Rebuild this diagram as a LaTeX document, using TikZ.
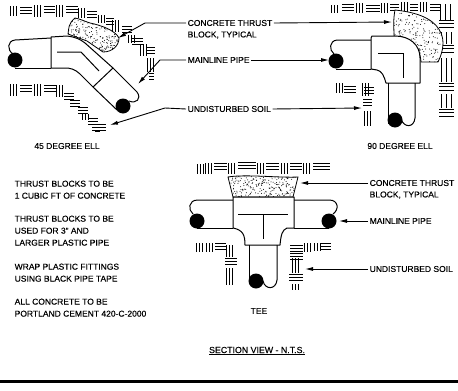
\documentclass[tikz,border=0pt]{standalone}
\usepackage{fontspec}
\setmainfont[RawFeature={embolden=0.3}]{Liberation Sans}
\usetikzlibrary{arrows.meta}
\usetikzlibrary{shapes, calc}

% soil hatching: three stacked strokes, #1 spacing, #4 stroke length
\newcommand{\soilv}[4][3]{\foreach \d in {0,1,2} \draw[soil] (#2+\d*#1,#3) -- ++(0,#4);}
\newcommand{\soilh}[4][3.2]{\foreach \d in {0,1,2} \draw[soil] (#2,#3+\d*#1) -- ++(#4,0);}

\begin{document}
\begin{tikzpicture}[x=1pt,y=-1pt]
\tikzstyle{soil} = [draw=black, line width=0.8pt]
\tikzstyle{pipe} = [draw=black, line width=1pt]
\tikzstyle{fitting} = [draw=black, line width=1pt, fill=white, line join=round]
\tikzstyle{plug} = [circle, fill=black, inner sep=0pt, minimum size=15pt]
\tikzstyle{leader} = [draw=black, line width=0.9pt, -{Latex[length=8pt,width=4pt]}]
\tikzstyle{label} = [inner sep=1.5pt, font=\fontsize{8.5}{12}\selectfont, align=left]
\tikzstyle{concrete} = [draw=black, line width=0.8pt, fill=white, path picture={
  \foreach \i in {1,...,240} {
    \pgfmathsetmacro{\r}{rnd}
    \coordinate (sw) at (path picture bounding box.south west);
    \coordinate (se) at (path picture bounding box.south east);
    \coordinate (nw) at (path picture bounding box.north west);
    \fill[black] ($(sw)!{rnd}!(se) - \r*(sw) + \r*(nw)$) circle (0.5pt);
  }}]
\useasboundingbox (0,0) rectangle (458,391);
\pgfmathsetseed{7}

% soil, 45 degree ell
\soilv{10}{6}{10} \soilh{20}{7}{12} \soilv{34}{5}{12} \soilh{44}{6}{11} \soilv{56}{5}{12}
\soilh{66}{6}{12} \soilv{78}{8}{10} \soilh{87}{11}{10} \soilv{98}{15}{8} \soilh{106}{18}{8}
\soilv{112}{20}{12} \soilh{122}{26}{10} \soilv{128}{35}{8} \soilh{132}{38}{11} \soilv{140}{44}{12}
\soilh{147}{47}{8} \soilv{147}{58}{14} \soilh{149}{73}{5}
\soilv{10}{84}{12} \soilh{20}{85}{12} \soilv{34}{84}{12} \soilh{44}{85}{12} \soilv{56}{85}{12}
\soilh{64}{93}{10} \soilh{70}{100}{10} \soilh{78}{107}{10} \soilv{82}{114}{6} \soilh{88}{118}{10}
\soilh{92}{124}{14}
\draw[soil] (95,131) -- (100,131);

% soil, 90 degree ell
\soilv{331}{5}{8} \soilh{342}{4}{12} \soilv{356}{3}{10} \soilh{366}{5}{14} \soilv{381}{3}{10}
\soilh{390}{4}{9} \soilv{401}{2}{10} \soilh{410}{4}{8} \soilv{420}{2}{10} \soilh{430}{4}{10}
\soilv[5]{440}{4}{16} \soilh[3.6]{439}{20}{15}
\soilv[5]{441}{32}{12} \soilh[3.6]{439}{45}{15} \soilv[5]{441}{58}{24} \soilh[3.6]{439}{83}{15}
\soilv[5]{441}{94}{14} \soilh[3.6]{439}{109}{15}
\soilv{336}{83}{10} \soilh{344}{86}{12} \soilv{362}{83}{13} \soilh{364}{87}{10}
\soilh{363}{99}{9} \soilv{364}{111}{15}

% soil, tee
\soilv{197}{164}{10} \soilv{205}{163}{11} \soilh{214}{163}{13} \soilv{228}{163}{11}
\soilh{238}{162}{18} \soilv{257}{163}{11} \soilh{266}{163}{13} \soilv{281}{163}{11}
\soilh{290}{163}{12} \soilv{303}{163}{11} \soilh{313}{163}{17}
\soilv{196}{243}{9} \soilv{206}{243}{9} \soilh{215}{243}{11} \soilv{226}{245}{12}
\soilh{225}{258}{12} \soilv{226}{268}{17}
\soilh{290}{245}{13} \soilv{304}{243}{9} \soilv{314}{243}{8} \soilh{320}{243}{11}
\soilh{290}{253}{13} \soilv{292}{258}{15} \soilh{289}{274}{14} \soilv{292}{284}{6}

% 45 degree ell
\path[concrete] (75,18) .. controls (68,24) and (69,28) .. (68,34) -- (87,41) -- (103,52)
  .. controls (112,52) and (119,46) .. (119,38) .. controls (115,30) and (100,25) .. (90,23) .. controls (84,21) and (80,19) .. (75,18) -- cycle;
\draw[pipe] (51,38) -- (15,40) .. controls (7,41) and (7,50) .. (13,54);
\draw[pipe] (15,68) -- (51,68);
\draw[fitting] (51,37) -- (67,36) .. controls (75,37) and (80,39) .. (85,43) -- (113,68) -- (93,87) -- (80,74) .. controls (75,69) and (70,68) .. (65,68) -- (51,68) -- cycle;
\draw[pipe] (57,52) -- (81,52) -- (99,71);
\draw[pipe] (113,68) -- (137,92) .. controls (142,99) and (136,104) .. (129,101);
\draw[pipe] (93,87) -- (117,110);
\node[plug] (plugA) at (15,60) {};
\node[plug] (plugB) at (123,106) {};

% 90 degree ell
\path[concrete] (395,10) .. controls (393,20) and (394,28) .. (394,36) .. controls (408,37) and (420,45) .. (421,62) -- (438,62)
  .. controls (444,50) and (444,40) .. (441,33) .. controls (436,22) and (424,13) .. (395,10) -- cycle;
\draw[pipe] (371,40) -- (337,40) .. controls (329,41) and (329,50) .. (334,54);
\draw[pipe] (336,69) -- (371,69);
\draw[fitting] (371,38) -- (372,36) -- (395,36) .. controls (410,36) and (420,45) .. (420,58) -- (420,83) -- (386,83) .. controls (384,76) and (382,71) .. (377,70) -- (371,69) -- cycle;
\draw[pipe] (378,53) -- (403,53) -- (403,78);
\draw[pipe] (388,83) -- (388,124);
\draw[pipe] (415,83) -- (415,118) .. controls (414,128) and (404,128) .. (401,119);
\node[plug] (plugC) at (336,61) {};
\node[plug] (plugD) at (395,120) {};

% tee
\path[concrete] (228,177) .. controls (245,174) and (280,178) .. (298,177) -- (293,197) -- (233,197) -- cycle;
\draw[pipe] (233,200) -- (198,200) .. controls (188,200) and (188,210) .. (193,214);
\draw[pipe] (197,228) -- (233,228);
\draw[pipe] (294,200) -- (329,200) .. controls (339,200) and (339,210) .. (333,214);
\draw[pipe] (294,228) -- (329,228);
\draw[fitting] (233,197) -- (294,197) -- (294,228) -- (287,228) .. controls (282,230) and (281,235) .. (280,245) -- (245,245) .. controls (245,235) and (243,230) .. (233,228) -- cycle;
\draw[pipe] (238,214) -- (288,214);
\draw[pipe] (263,214) -- (263,239);
\draw[pipe] (249,245) -- (249,283);
\draw[pipe] (277,245) -- (277,280) .. controls (276,290) and (265,290) .. (263,281);
\node[plug] (plugE) at (197,221) {};
\node[plug] (plugF) at (329,221) {};
\node[plug] (plugG) at (256,281) {};

% labels
\node[label, anchor=west] (thrustA) at (186,23) {CONCRETE THRUST};
\node[label, anchor=west] (blockA) at (186,35) {BLOCK, TYPICAL};
\node[label, anchor=west] (pipeA) at (186,60) {MAINLINE PIPE};
\node[label, anchor=west] (soilA) at (186,109) {UNDISTURBED SOIL};
\node[label, anchor=west] (thrustB) at (368,183) {CONCRETE THRUST};
\node[label, anchor=west] (blockB) at (368,195) {BLOCK, TYPICAL};
\node[label, anchor=west] (pipeB) at (368,221) {MAINLINE PIPE};
\node[label, anchor=west] (soilB) at (368,269) {UNDISTURBED SOIL};
\node[label] (ellA) at (67,146) {45 DEGREE ELL};
\node[label] (ellB) at (400,146) {90 DEGREE ELL};
\node[label] (tee) at (259,311) {TEE};
\node[label, font=\fontsize{8.8}{12}\selectfont] (section) at (257,351) {\underline{SECTION VIEW - N.T.S.}};
\node[label, anchor=north west] (noteA) at (13,179) {THRUST BLOCKS TO BE\\1 CUBIC FT OF CONCRETE};
\node[label, anchor=north west] (noteB) at (13,214) {THRUST BLOCKS TO BE\\USED FOR 3" AND\\LARGER PLASTIC PIPE};
\node[label, anchor=north west] (noteC) at (13,262) {WRAP PLASTIC FITTINGS\\USING BLACK PIPE TAPE};
\node[label, anchor=north west] (noteD) at (13,297) {ALL CONCRETE TO BE\\PORTLAND CEMENT 420-C-2000};

% leaders
\coordinate (tipA) at (118,38);
\coordinate (tipB) at (138,84);
\coordinate (tipC) at (110,125);
\coordinate (tipD) at (392,22);
\coordinate (tipE) at (329,60);
\coordinate (tipF) at (362,108);
\coordinate (tipG) at (300,183);
\coordinate (tipH) at (339,221);
\coordinate (tipI) at (305,269);
\draw[leader] (thrustA.west) -- (145,23) -- (tipA);
\draw[leader] (pipeA.west) -- (160,60) -- (tipB);
\draw[leader] (soilA.west) -- (165,108) -- (tipC);
\draw[leader] (thrustA.east) -- (tipD);
\draw[leader] (pipeA.east) -- (tipE);
\draw[leader] (soilA.east) -- (tipF);
\draw[leader] (thrustB.west) -- (tipG);
\draw[leader] (pipeB.west) -- (tipH);
\draw[leader] (soilB.west) -- (tipI);

% border
\fill[black] (0,379.5) rectangle (458,382.5);
\end{tikzpicture}
\end{document}
